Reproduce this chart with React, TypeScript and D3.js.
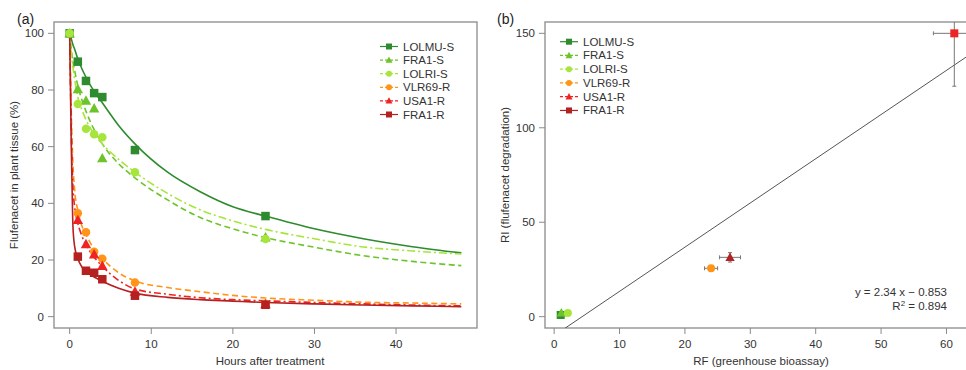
import React from 'react';
import * as d3 from 'd3';

// Panel (a) – degradation over time
const seriesNames = ['LOLMU-S', 'FRA1-S', 'LOLRI-S', 'VLR69-R', 'USA1-R', 'FRA1-R'];
const seriesColors = ['#2e8b2e', '#6cc42a', '#a6e63c', '#ff9416', '#ee2424', '#b52020'];
const seriesDash = ['', '6,3.5', '8,3,2,3', '6,3.5', '7,3,2,3', ''];
const seriesShapes = ['square', 'triangle', 'circle', 'circle', 'triangle', 'square'];

// measured points (hours -> %)
const pointHours = [0, 1, 2, 3, 4, 8, 24];
const pointValues: (number | null)[][] = [
  [100, 90, 83.2, 78.9, 77.5, 58.8, 35.5],
  [100, 80.3, 76.2, 73.5, 55.9, null, 28.0],
  [100, 75.1, 66.3, 64.4, 63.3, 51.0, 27.4],
  [null, 36.5, 29.8, 22.9, 20.4, 12.1, 4.6],
  [null, 34.1, 25.6, 22.0, 17.9, 8.8, 4.4],
  [null, 21.2, 16.2, 15.5, 13.2, 7.4, 4.2],
];

// fitted curves
const curveHours = [0, 0.1, 0.2, 0.3, 0.4, 0.6, 1, 1.5, 2, 3, 4, 6, 8, 12, 16, 20, 24, 30, 36, 42, 48];
const curveValues = [
  [100, 99, 98, 97, 96, 94.5, 91, 87.5, 84.5, 79.5, 75.5, 67.5, 61, 51, 44.1, 38.8, 35.5, 31, 27.5, 24.7, 22.5],
  [100, 97, 94.5, 92, 90, 87, 81.5, 76.5, 72.5, 66, 61, 54, 49, 41.2, 35, 31, 27.9, 24.5, 21.5, 19.5, 18],
  [100, 96, 93, 90, 88, 84, 77.5, 73, 69.5, 64.5, 61, 55.5, 51, 43.5, 37.7, 33.8, 30.8, 27.5, 24.6, 23.2, 22.1],
  [100, 85, 72, 62, 54, 45, 37.5, 32, 29, 23.8, 20.5, 15.5, 12.6, 10.3, 8.8, 7.5, 6.6, 5.8, 5.1, 4.8, 4.5],
  [100, 82, 66, 54, 46, 39, 33, 28.5, 25.3, 21, 17.8, 12.8, 9.8, 7.9, 6.7, 6, 5.6, 5, 4.5, 4.1, 3.8],
  [100, 80, 60, 45, 32, 25, 20.5, 17.5, 16, 14, 12.5, 10, 8.3, 6.8, 6, 5.5, 5, 4.5, 4.1, 3.8, 3.5],
];

const aXTicks = [0, 10, 20, 30, 40];
const aYTicks = [0, 20, 40, 60, 80, 100];

// Panel (b) – RI vs RF
const bRF = [1.0, 1.1, 2.1, 24.0, 26.9, 61.2];
const bRI = [0.9, 2.0, 2.0, 25.6, 31.4, 150];
const bRFerr = [0.2, 0.2, 0.2, 1.0, 1.6, 3.2];
const bRIerr = [0.5, 0.5, 0.5, 1.2, 2.5, 28];
const bShapes = ['square', 'triangle', 'circle', 'circle', 'triangle', 'square'];
const bColors = ['#2e8b2e', '#6cc42a', '#a6e63c', '#ff9416', '#b52020', '#ee2424'];
const bXTicks = [0, 10, 20, 30, 40, 50, 60];
const bYTicks = [0, 50, 100, 150];
const lineSlope = 2.34;
const lineIntercept = -10;
const lineXs = [-1.4, 63.6];

const font = '"Liberation Sans", Arial, sans-serif';
const boxColor = '#8a8a8a';
const textColor = '#333';

function Marker({ shape, x, y, color, size }: { shape: string; x: number; y: number; color: string; size: number }) {
  if (shape === 'square') {
    return <rect x={x - size / 2} y={y - size / 2} width={size} height={size} fill={color} />;
  }
  if (shape === 'triangle') {
    return (
      <path
        d={`M${x},${y - size * 0.6} L${x + size * 0.58},${y + size * 0.45} L${x - size * 0.58},${y + size * 0.45} Z`}
        fill={color}
      />
    );
  }
  return <circle cx={x} cy={y} r={size / 2} fill={color} />;
}

const App: React.FC = () => {
  const top = 22;
  const bottom = 328;

  // scales panel a
  const ax = d3.scaleLinear().domain([-1.92, 49.92]).range([54, 477]);
  const ay = d3.scaleLinear().domain([-4, 104]).range([bottom, top]);
  // scales panel b
  const bx = d3.scaleLinear().domain([-1.4, 63.6]).range([545, 970]);
  const by = d3.scaleLinear().domain([-6, 156]).range([bottom, top]);

  const lineGen = d3
    .line<number>()
    .x((d, i) => ax(curveHours[i]))
    .y(d => ay(d))
    .curve(d3.curveMonotoneX);

  const legendA = { x: 380, y: 46.5, dy: 13.6 };
  const legendB = { x: 560, y: 41.7, dy: 13.75 };

  const renderLegend = (lx: number, ly: number, dy: number) =>
    seriesNames.map((name, i) => (
      <g key={name} transform={`translate(${lx},${ly + i * dy})`}>
        <line x1={0} x2={18} y1={0} y2={0} stroke={seriesColors[i]} strokeWidth={1.2} strokeDasharray={seriesDash[i] ? '3,2' : ''} />
        <Marker shape={seriesShapes[i]} x={9} y={0} color={seriesColors[i]} size={6} />
        <text x={23} y={4} fontSize={11.5} fill={textColor} fontFamily={font}>
          {name}
        </text>
      </g>
    ));

  return (
    <svg
      width={966}
      height={370}
      style={{ position: 'absolute', left: 0, top: 0, background: '#fff' }}
      fontFamily={font}
    >
      {/* ---------- Panel (a) ---------- */}
      <text x={17} y={24} fontSize={14} fill="#222">(a)</text>
      <rect x={54} y={top} width={477 - 54} height={bottom - top} fill="none" stroke={boxColor} strokeWidth={1.3} />
      {aXTicks.map(t => (
        <g key={'ax' + t}>
          <line x1={ax(t)} x2={ax(t)} y1={bottom} y2={bottom + 6} stroke={boxColor} />
          <text x={ax(t)} y={348} textAnchor="middle" fontSize={11.5} fill={textColor}>{t}</text>
        </g>
      ))}
      {aYTicks.map(t => (
        <g key={'ay' + t}>
          <line x1={48} x2={54} y1={ay(t)} y2={ay(t)} stroke={boxColor} />
          <text x={44} y={ay(t) + 4} textAnchor="end" fontSize={11.5} fill={textColor}>{t}</text>
        </g>
      ))}
      <text x={270} y={365} textAnchor="middle" fontSize={11.5} fill={textColor}>Hours after treatment</text>
      <text transform="translate(18,175) rotate(-90)" textAnchor="middle" fontSize={11.5} fill={textColor}>
        Flufenacet in plant tissue (%)
      </text>

      {curveValues.map((vals, i) => (
        <path
          key={'c' + i}
          d={lineGen(vals) || ''}
          fill="none"
          stroke={seriesColors[i]}
          strokeWidth={1.6}
          strokeDasharray={seriesDash[i]}
        />
      ))}
      {pointValues.map((vals, i) =>
        vals.map((v, j) =>
          v == null ? null : (
            <Marker
              key={`p${i}-${j}`}
              shape={seriesShapes[i]}
              x={ax(pointHours[j])}
              y={ay(v)}
              color={seriesColors[i]}
              size={seriesShapes[i] === 'triangle' ? 9 : 8.5}
            />
          )
        )
      )}
      {renderLegend(legendA.x, legendA.y, legendA.dy)}

      {/* ---------- Panel (b) ---------- */}
      <text x={497} y={24} fontSize={14} fill="#222">(b)</text>
      <defs>
        <clipPath id="clipB">
          <rect x={545} y={top} width={430} height={bottom - top} />
        </clipPath>
      </defs>
      <rect x={545} y={top} width={970 - 545} height={bottom - top} fill="none" stroke={boxColor} strokeWidth={1.3} />
      {bXTicks.map(t => (
        <g key={'bx' + t}>
          <line x1={bx(t)} x2={bx(t)} y1={bottom} y2={bottom + 6} stroke={boxColor} />
          <text x={bx(t)} y={348} textAnchor="middle" fontSize={11.5} fill={textColor}>{t}</text>
        </g>
      ))}
      {bYTicks.map(t => (
        <g key={'by' + t}>
          <line x1={539} x2={545} y1={by(t)} y2={by(t)} stroke={boxColor} />
          <text x={535} y={by(t) + 4} textAnchor="end" fontSize={11.5} fill={textColor}>{t}</text>
        </g>
      ))}
      <text x={761} y={365} textAnchor="middle" fontSize={11.5} fill={textColor}>RF (greenhouse bioassay)</text>
      <text transform="translate(509,175) rotate(-90)" textAnchor="middle" fontSize={11.5} fill={textColor}>
        RI (flufenacet degradation)
      </text>

      <g clipPath="url(#clipB)">
        <line
          x1={bx(lineXs[0])}
          y1={by(lineSlope * lineXs[0] + lineIntercept)}
          x2={bx(lineXs[1])}
          y2={by(lineSlope * lineXs[1] + lineIntercept)}
          stroke="#555"
          strokeWidth={1}
        />
        {bRF.map((rf, i) => {
          const cx = bx(rf);
          const cy = by(bRI[i]);
          const x0 = bx(rf - bRFerr[i]);
          const x1 = bx(rf + bRFerr[i]);
          const y0 = by(bRI[i] - bRIerr[i]);
          const y1 = by(bRI[i] + bRIerr[i]);
          return (
            <g key={'b' + i} stroke="#777" strokeWidth={1}>
              <line x1={x0} x2={x1} y1={cy} y2={cy} />
              <line x1={x0} x2={x0} y1={cy - 2} y2={cy + 2} />
              <line x1={x1} x2={x1} y1={cy - 2} y2={cy + 2} />
              <line x1={cx} x2={cx} y1={y0} y2={y1} />
              <line x1={cx - 2} x2={cx + 2} y1={y0} y2={y0} />
              <line x1={cx - 2} x2={cx + 2} y1={y1} y2={y1} />
            </g>
          );
        })}
        {bRF.map((rf, i) => (
          <Marker key={'bm' + i} shape={bShapes[i]} x={bx(rf)} y={by(bRI[i])} color={bColors[i]} size={8} />
        ))}
      </g>
      <text x={947} y={296} textAnchor="end" fontSize={11.5} fill={textColor}>y = 2.34 x − 0.853</text>
      <text x={947} y={310} textAnchor="end" fontSize={11.5} fill={textColor}>
        R<tspan fontSize={8} dy={-4}>2</tspan>
        <tspan dy={4}> = 0.894</tspan>
      </text>
      {renderLegend(legendB.x, legendB.y, legendB.dy)}
    </svg>
  );
};

export default App;
